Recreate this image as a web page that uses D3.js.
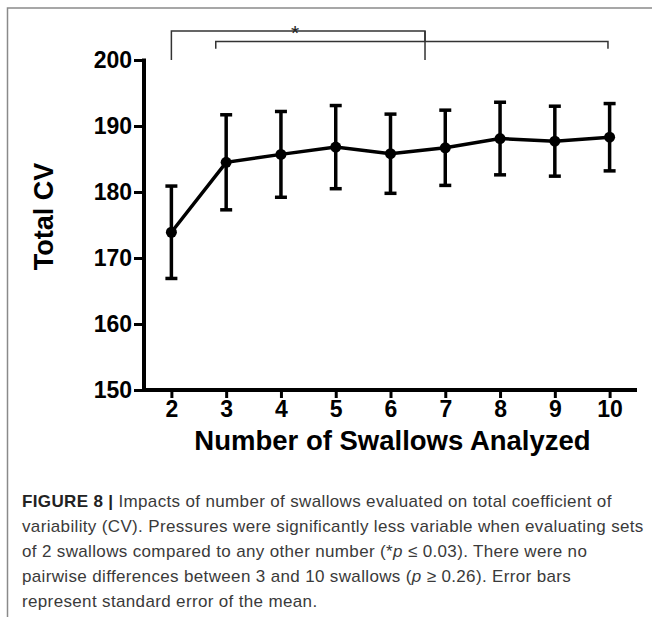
<!DOCTYPE html>
<html>
<head>
<meta charset="utf-8">
<title>Total CV by number of swallows</title>
<style>
  body { margin: 0; background: #fff; }
  svg { display: block; font-family: "Liberation Sans", Arial, sans-serif; }
  .axis path, .axis line { stroke: #000; }
  .axis text { font-weight: bold; font-size: 23px; fill: #000; }
  .caption { font-size: 17px; letter-spacing: 0.35px; fill: #3a3a3a; }
</style>
</head>
<body>
<script src="https://cdnjs.cloudflare.com/ajax/libs/d3/7.8.5/d3.min.js"></script>
<script>
// data
var swallows = [2, 3, 4, 5, 6, 7, 8, 9, 10];
var meanCV   = [173.9, 184.5, 185.7, 186.8, 185.8, 186.7, 188.1, 187.7, 188.3];
var semCV    = [7.0, 7.2, 6.5, 6.3, 6.0, 5.7, 5.5, 5.3, 5.1];
var yTicks   = [150, 160, 170, 180, 190, 200];

// significance brackets: [x start, x end, y of bar, y of leg ends] (data units)
var brackets = [
  [2, 6.63, 204.4, 200.0],
  [2.81, 9.97, 202.8, 201.7]
];

var captionLines = [
  ["FIGURE 8 | ", "Impacts of number of swallows evaluated on total coefficient of"],
  ["", "variability (CV). Pressures were significantly less variable when evaluating sets"],
  ["", "of 2 swallows compared to any other number (*p \u2264 0.03). There were no"],
  ["", "pairwise differences between 3 and 10 swallows (p \u2265 0.26). Error bars"],
  ["", "represent standard error of the mean."]
];

var W = 652, H = 623;

var svg = d3.select("body").append("svg")
    .attr("width", W)
    .attr("height", H);

// figure frame (top and left edges)
svg.append("path")
    .attr("d", "M7.5,617V8H652")
    .attr("fill", "none")
    .attr("stroke", "#8a8a8a")
    .attr("stroke-width", 1.5);

var x = d3.scaleLinear().domain([1.5, 10.5]).range([144, 637]);
var y = d3.scaleLinear().domain([150, 200]).range([390, 60]);

// y axis
var yAxis = svg.append("g")
    .attr("class", "axis")
    .attr("transform", "translate(" + x(1.5) + ",0)")
    .call(d3.axisLeft(y).tickValues(yTicks).tickSize(10).tickSizeOuter(0).tickPadding(2));
yAxis.select(".domain").attr("stroke-width", 4).attr("d", "M0," + (y(150) + 2) + "V" + (y(200) - 1.5));
yAxis.selectAll(".tick line").attr("stroke-width", 3);

// x axis
var xAxis = svg.append("g")
    .attr("class", "axis")
    .attr("transform", "translate(0," + y(150) + ")")
    .call(d3.axisBottom(x).tickValues(swallows).tickSize(8).tickSizeOuter(0).tickPadding(3));
xAxis.select(".domain").attr("stroke-width", 4).attr("d", "M" + (x(1.5) - 2) + ",0H" + x(10.5));
xAxis.selectAll(".tick line").attr("stroke-width", 3);

// axis titles
svg.append("text")
    .attr("transform", "translate(53," + y(176.3) + ") rotate(-90)")
    .attr("text-anchor", "middle")
    .attr("font-weight", "bold")
    .attr("font-size", 27)
    .text("Total CV");

svg.append("text")
    .attr("x", (x(1.5) + x(10.5)) / 2 + 2)
    .attr("y", 450)
    .attr("text-anchor", "middle")
    .attr("font-weight", "bold")
    .attr("font-size", 27.5)
    .text("Number of Swallows Analyzed");

var pts = swallows.map(function(s, i) { return {s: s, m: meanCV[i], e: semCV[i]}; });

// error bars
var eb = svg.append("g").attr("stroke", "#000").attr("stroke-width", 3.5);
eb.selectAll(".stem").data(pts).enter().append("line")
    .attr("x1", function(d) { return x(d.s); })
    .attr("x2", function(d) { return x(d.s); })
    .attr("y1", function(d) { return y(d.m - d.e); })
    .attr("y2", function(d) { return y(d.m + d.e); });
eb.selectAll(".cap").data(pts.flatMap(function(d) { return [[d.s, d.m - d.e], [d.s, d.m + d.e]]; }))
  .enter().append("line")
    .attr("stroke-width", 3.5)
    .attr("x1", function(d) { return x(d[0]) - 6; })
    .attr("x2", function(d) { return x(d[0]) + 6; })
    .attr("y1", function(d) { return y(d[1]); })
    .attr("y2", function(d) { return y(d[1]); });

// mean line and points
svg.append("path")
    .datum(pts)
    .attr("fill", "none")
    .attr("stroke", "#000")
    .attr("stroke-width", 3.5)
    .attr("d", d3.line().x(function(d) { return x(d.s); }).y(function(d) { return y(d.m); }));

svg.selectAll(".dot").data(pts).enter().append("circle")
    .attr("cx", function(d) { return x(d.s); })
    .attr("cy", function(d) { return y(d.m); })
    .attr("r", 5.5)
    .attr("fill", "#000");

// significance brackets
svg.selectAll(".bracket").data(brackets).enter().append("path")
    .attr("fill", "none")
    .attr("stroke", "#333")
    .attr("stroke-width", 1.5)
    .attr("d", function(b) {
      return "M" + x(b[0]) + "," + y(b[3]) + "V" + y(b[2]) + "H" + x(b[1]) + "V" + y(b[3]);
    });
// first bracket's right leg runs down to the second bracket
svg.append("path")
    .attr("fill", "none")
    .attr("stroke", "#333")
    .attr("stroke-width", 1.5)
    .attr("d", "M" + x(brackets[0][1]) + "," + y(brackets[0][2]) + "V" + y(brackets[1][2]));

svg.append("text")
    .attr("x", (x(brackets[0][0]) + x(brackets[0][1])) / 2 - 3)
    .attr("y", y(brackets[0][2]) + 9)
    .attr("text-anchor", "middle")
    .attr("font-size", 21)
    .attr("fill", "#222")
    .text("*");

// caption
var cap = svg.append("text").attr("class", "caption");
captionLines.forEach(function(l, i) {
  var line = cap.append("tspan").attr("x", 22).attr("y", 507 + i * 25);
  if (l[0]) line.append("tspan").attr("font-weight", "bold").attr("fill", "#222").text(l[0]);
  // italicise the p symbols
  l[1].split(/(\bp\b)/).forEach(function(p) {
    var t = line.append("tspan").text(p);
    if (p === "p") t.attr("font-style", "italic");
  });
});
</script>
</body>
</html>
